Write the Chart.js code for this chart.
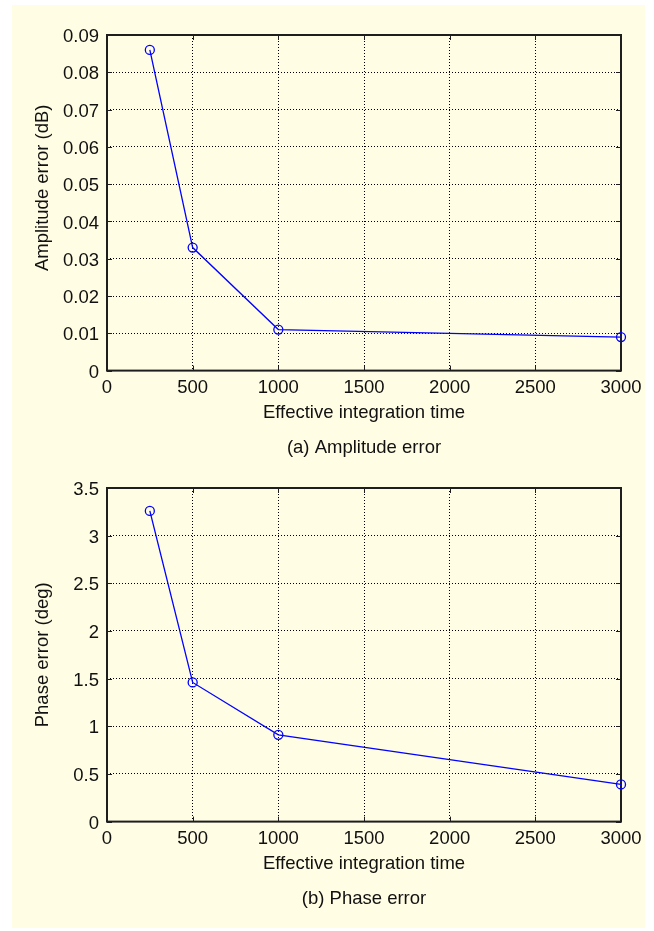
<!DOCTYPE html>
<html>
<head>
<meta charset="utf-8">
<script src="https://cdn.jsdelivr.net/npm/chart.js@4/dist/chart.umd.min.js"></script>
<style>
  html, body { margin: 0; padding: 0; background: #ffffff; }
  #page { position: relative; width: 654px; height: 931px; overflow: hidden; }
  #panel { position: absolute; left: 12px; top: 5px; width: 633px; height: 923px; background: #FFFDE4; }
  canvas { position: absolute; left: 0; }
  #ampChart { top: 0; }
  #phaseChart { top: 465px; }
</style>
</head>
<body>
<div id="page">
  <div id="panel"></div>
  <canvas id="ampChart" width="654" height="465"></canvas>
  <canvas id="phaseChart" width="654" height="466"></canvas>
</div>
<script>
// Measured errors versus effective integration time
const integrationTimes = [250, 500, 1000, 3000];
const amplitudeErrorDb = [0.086, 0.033, 0.011, 0.009];
const phaseErrorDeg = [3.26, 1.46, 0.91, 0.39];

// Axis tick values
const timeTicks = [0, 500, 1000, 1500, 2000, 2500, 3000];
const amplitudeTicks = [0, 0.01, 0.02, 0.03, 0.04, 0.05, 0.06, 0.07, 0.08, 0.09];
const phaseTicks = [0, 0.5, 1, 1.5, 2, 2.5, 3, 3.5];

const FONT = { family: '"Liberation Sans", Arial, sans-serif', size: 18.5 };
const INK = '#111111';

// Closed box around the plot area with short inward tick marks on every side
const axesFrame = {
  id: 'axesFrame',
  beforeDatasetsDraw(chart, args, opts) {
    const { ctx, chartArea: a, scales: { x, y } } = chart;
    const L = opts.tickLength;
    ctx.save();
    ctx.setLineDash([]);
    ctx.strokeStyle = opts.color;
    ctx.lineWidth = 1;
    ctx.beginPath();
    x.ticks.forEach(t => {
      const px = Math.round(x.getPixelForValue(t.value)) + 0.5;
      ctx.moveTo(px, a.bottom); ctx.lineTo(px, a.bottom - L);
      ctx.moveTo(px, a.top); ctx.lineTo(px, a.top + L);
    });
    y.ticks.forEach(t => {
      const py = Math.round(y.getPixelForValue(t.value)) + 0.5;
      ctx.moveTo(a.left, py); ctx.lineTo(a.left + L, py);
      ctx.moveTo(a.right, py); ctx.lineTo(a.right - L, py);
    });
    ctx.stroke();
    ctx.lineWidth = opts.width;
    ctx.strokeRect(a.left, a.top, a.right - a.left, a.bottom - a.top);
    ctx.restore();
  }
};

// Rotated y-axis caption placed beside the plot area
const sideTitle = {
  id: 'sideTitle',
  afterDraw(chart, args, opts) {
    const { ctx, chartArea: a } = chart;
    ctx.save();
    ctx.font = `${FONT.size}px ${FONT.family}`;
    ctx.fillStyle = INK;
    ctx.textAlign = 'center';
    ctx.textBaseline = 'middle';
    ctx.translate(opts.x, (a.top + a.bottom) / 2 + opts.shift);
    ctx.rotate(-Math.PI / 2);
    ctx.fillText(opts.text, 0, 0);
    ctx.restore();
  }
};

function makeChart(canvasId, values, yTicks, yMax, decimals, yTitle, yShift, caption, padTop, padBottom) {
  return new Chart(document.getElementById(canvasId), {
    type: 'scatter',
    data: {
      datasets: [{
        data: integrationTimes.map((t, i) => ({ x: t, y: values[i] })),
        showLine: true,
        tension: 0,
        borderColor: '#0000FF',
        borderWidth: 1.3,
        pointStyle: 'circle',
        pointRadius: 4.5,
        pointHoverRadius: 4.5,
        pointBorderWidth: 1.3,
        pointBorderColor: '#0000FF',
        pointBackgroundColor: 'rgba(0,0,0,0)',
        clip: false
      }]
    },
    options: {
      responsive: false,
      animation: false,
      devicePixelRatio: 1,
      layout: { padding: { left: 0, right: 33, top: padTop, bottom: padBottom } },
      plugins: {
        legend: { display: false },
        tooltip: { enabled: false },
        title: {
          display: true,
          text: caption,
          position: 'bottom',
          fullSize: false,
          color: INK,
          font: { ...FONT, weight: 'normal' },
          padding: { top: 11, bottom: 5 }
        },
        axesFrame: { color: '#1e1e1e', width: 2, tickLength: 5 },
        sideTitle: { text: yTitle, x: 43, shift: yShift }
      },
      scales: {
        x: {
          type: 'linear',
          min: 0,
          max: 3000,
          afterBuildTicks: s => { s.ticks = timeTicks.map(v => ({ value: v })); },
          afterFit: s => { s.height = 55; },
          grid: { color: '#000000', lineWidth: 1, drawTicks: false },
          border: { display: false, dash: [1, 2] },
          ticks: { color: INK, font: FONT, padding: 6, maxRotation: 0, callback: v => String(v) },
          title: { display: true, text: 'Effective integration time', color: INK, font: FONT, padding: { top: 0, bottom: 2 } }
        },
        y: {
          type: 'linear',
          min: 0,
          max: yMax,
          afterBuildTicks: s => { s.ticks = yTicks.map(v => ({ value: v })); },
          afterFit: s => { s.width = 107; },
          grid: { color: '#000000', lineWidth: 1, drawTicks: false },
          border: { display: false, dash: [1, 2] },
          ticks: { color: INK, font: FONT, padding: 8, labelOffset: 2, callback: v => String(Number(v.toFixed(decimals))) }
        }
      }
    },
    plugins: [axesFrame, sideTitle]
  });
}

makeChart('ampChart', amplitudeErrorDb, amplitudeTicks, 0.09, 2, 'Amplitude error (dB)', -15, '(a) Amplitude error', 35, 1.2);
makeChart('phaseChart', phaseErrorDeg, phaseTicks, 3.5, 1, 'Phase error (deg)', 0, '(b) Phase error', 23, 16.2);
</script>
</body>
</html>
